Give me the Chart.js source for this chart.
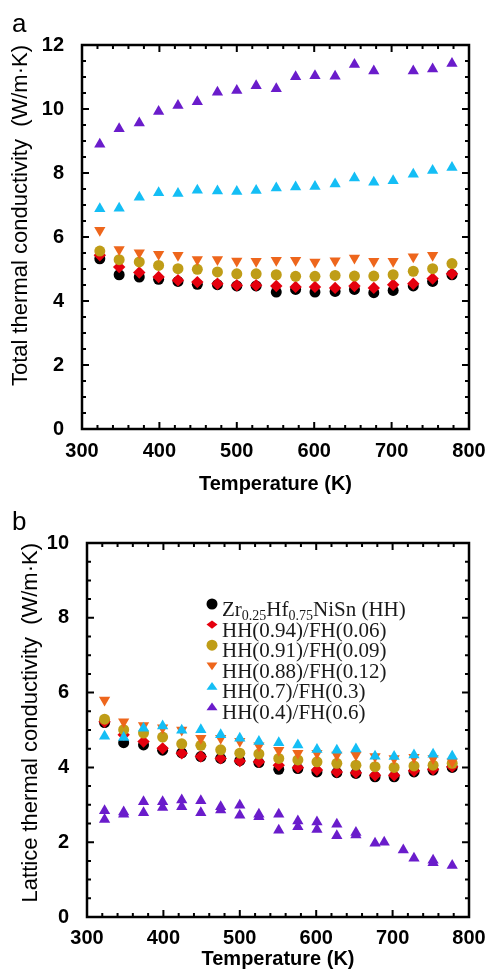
<!DOCTYPE html>
<html>
<head>
<meta charset="utf-8">
<script src="https://cdn.jsdelivr.net/npm/chart.js@4.4.0/dist/chart.umd.min.js"></script>
<style>
  body { margin: 0; background: #fff; }
  canvas { position: absolute; left: 0; }
</style>
</head>
<body>
<canvas id="chartA" width="491" height="500" style="top:0"></canvas>
<canvas id="chartB" width="491" height="477" style="top:500px"></canvas>
<script>
// temperatures (K)
const temps = [323, 348, 374, 399, 424, 449, 475, 500, 525, 551, 576, 601, 627, 652, 677, 702, 728, 753, 778];
const tempsB = [323, 348, 374, 399, 424, 449, 475, 500, 525, 551, 576, 601, 627, 652, 689, 714, 753];

// (a) total thermal conductivity
const kTotHH  = [5.32, 4.82, 4.75, 4.68, 4.61, 4.52, 4.51, 4.47, 4.47, 4.28, 4.36, 4.28, 4.30, 4.36, 4.26, 4.33, 4.47, 4.61, 4.82];
const kTot094 = [5.43, 5.06, 4.89, 4.75, 4.65, 4.59, 4.54, 4.49, 4.49, 4.47, 4.44, 4.44, 4.41, 4.47, 4.41, 4.51, 4.54, 4.70, 4.85];
const kTot091 = [5.56, 5.29, 5.22, 5.11, 5.01, 4.99, 4.91, 4.85, 4.85, 4.82, 4.77, 4.77, 4.80, 4.78, 4.78, 4.82, 4.93, 5.01, 5.17];
const kTot088 = [6.21, 5.61, 5.51, 5.46, 5.43, 5.30, 5.30, 5.25, 5.24, 5.27, 5.27, 5.22, 5.26, 5.34, 5.24, 5.24, 5.38, 5.43, null];
const kTot07  = [6.88, 6.90, 7.24, 7.38, 7.36, 7.46, 7.44, 7.42, 7.45, 7.53, 7.56, 7.58, 7.66, 7.84, 7.71, 7.76, 7.96, 8.08, 8.17];
const kTot04  = [8.90, 9.38, 9.56, 9.92, 10.11, 10.23, 10.52, 10.58, 10.73, 10.63, 11.01, 11.04, 11.02, 11.39, 11.19, null, 11.19, 11.25, 11.42];

// (b) lattice thermal conductivity
const kLatHH  = [5.20, 4.66, 4.60, 4.46, 4.39, 4.29, 4.24, 4.18, 4.13, 3.95, 3.97, 3.88, 3.86, 3.84, 3.75, 3.75, 3.88, 3.93, 4.00];
const kLat094 = [5.22, 4.87, 4.69, 4.51, 4.38, 4.29, 4.24, 4.17, 4.15, 4.06, 4.00, 3.93, 3.88, 3.86, 3.79, 3.79, 3.91, 3.95, 4.02];
const kLat091 = [5.29, 5.01, 4.92, 4.81, 4.63, 4.59, 4.47, 4.38, 4.36, 4.24, 4.20, 4.15, 4.11, 4.06, 4.02, 4.00, 4.04, 4.06, 4.11];
const kLat088 = [5.80, 5.22, 5.12, 5.06, 5.00, 4.78, 4.78, 4.70, 4.58, 4.46, 4.38, 4.38, 4.33, 4.33, 4.29, 4.24, 4.27, 4.24, 4.15];
const kLat07  = [4.83, 4.80, 5.05, 5.11, 4.99, 5.01, 4.87, 4.78, 4.69, 4.66, 4.60, 4.48, 4.46, 4.49, 4.30, 4.29, 4.33, 4.35, 4.30];
const kLat04  = [2.84, 2.81, 3.08, 3.08, 3.13, 3.11, 2.95, 2.99, 2.75, 2.75, 2.57, 2.54, 2.48, 2.26, 1.97, null, 1.57, 1.52, 1.38];
const kLat04b = [2.61, 2.75, 2.79, 2.93, 2.95, 2.79, 2.86, 2.72, 2.68, 2.32, 2.41, 2.34, 2.17, 2.19, 2.00, 1.79, 1.45];

const names = ['Zr_{0.25}Hf_{0.75}NiSn (HH)', 'HH(0.94)/FH(0.06)', 'HH(0.91)/FH(0.09)',
               'HH(0.88)/FH(0.12)', 'HH(0.7)/FH(0.3)', 'HH(0.4)/FH(0.6)'];
const colors = ['#000000', '#E5000E', '#BF9D17', '#EE661C', '#14BEF5', '#6A1CCB'];
const shapes = ['circle', 'rectRot', 'circle', 'triangle', 'triangle', 'triangle'];
const turns  = [0, 0, 0, 180, 0, 0];
const sizes  = [5.5, 6.2, 5.5, 6.5, 6.5, 6.5];

const xTicks  = [300, 400, 500, 600, 700, 800];
const yTicksA = [0, 2, 4, 6, 8, 10, 12];
const yTicksB = [0, 2, 4, 6, 8, 10];

const sans = '"Liberation Sans", Arial, sans-serif';
const serif = '"Liberation Serif", "Times New Roman", serif';

function pts(xs, ys) {
  return xs.map((x, i) => ({x: x, y: ys[i]})).filter(p => p.y !== null);
}

function makeSets(series, extra) {
  let sets = series.map((ys, i) => ({
    label: names[i],
    data: pts(temps, ys),
    backgroundColor: colors[i],
    borderColor: colors[i],
    pointStyle: shapes[i],
    rotation: turns[i],
    pointRadius: sizes[i],
    pointHoverRadius: sizes[i],
    pointBorderWidth: 0,
    showLine: false,
    order: 6 - i
  }));
  if (extra) {
    sets.push({
      label: names[5] + ' b',
      data: pts(tempsB, extra),
      backgroundColor: colors[5],
      borderColor: colors[5],
      pointStyle: 'triangle',
      pointRadius: 6.5,
      pointBorderWidth: 0,
      showLine: false,
      order: 1
    });
  }
  return sets;
}

// box + inward ticks on all four sides, panel letter
const framePlugin = {
  id: 'frame',
  afterDraw(chart, args, opts) {
    const {ctx, chartArea: a, scales: {x, y}} = chart;
    ctx.save();
    ctx.strokeStyle = '#000';
    ctx.lineWidth = 2;
    ctx.beginPath();
    x.ticks.forEach(t => {
      const px = x.getPixelForValue(t.value);
      const len = xTicks.includes(t.value) ? 7 : 4;
      ctx.moveTo(px, a.bottom); ctx.lineTo(px, a.bottom - len);
      ctx.moveTo(px, a.top); ctx.lineTo(px, a.top + len);
    });
    y.ticks.forEach(t => {
      const py = y.getPixelForValue(t.value);
      const len = opts.yMajor.includes(t.value) ? 7 : 4;
      ctx.moveTo(a.left, py); ctx.lineTo(a.left + len, py);
      ctx.moveTo(a.right, py); ctx.lineTo(a.right - len, py);
    });
    ctx.stroke();
    ctx.lineWidth = 2.5;
    ctx.strokeRect(a.left, a.top, a.right - a.left, a.bottom - a.top);
    ctx.fillStyle = '#000';
    ctx.font = '26px ' + sans;
    ctx.fillText(opts.letter, 12, opts.letterY);
    ctx.restore();
  }
};

function marker(ctx, shape, turn, r, x, y) {
  ctx.beginPath();
  if (shape === 'circle') {
    ctx.arc(x, y, r, 0, Math.PI * 2);
  } else if (shape === 'rectRot') {
    ctx.moveTo(x, y - r * 0.75); ctx.lineTo(x + r, y); ctx.lineTo(x, y + r * 0.75); ctx.lineTo(x - r, y);
  } else {
    const s = turn === 180 ? -1 : 1;
    ctx.moveTo(x, y - s * r * 0.8); ctx.lineTo(x + r, y + s * r * 0.6); ctx.lineTo(x - r, y + s * r * 0.6);
  }
  ctx.closePath();
  ctx.fill();
}

// legend with subscripts
const subLegend = {
  id: 'subLegend',
  afterDraw(chart, args, opts) {
    if (!opts.show) return;
    const ctx = chart.ctx;
    ctx.save();
    names.forEach((name, i) => {
      const cy = opts.top + i * opts.step;
      ctx.fillStyle = colors[i];
      marker(ctx, shapes[i], turns[i], 5.5, opts.x, cy - 5);
      ctx.fillStyle = '#1a1a1a';
      ctx.textBaseline = 'alphabetic';
      let tx = opts.x + 10;
      name.split(/(_\{[^}]*\})/).forEach(part => {
        if (!part) return;
        if (part.startsWith('_{')) {
          ctx.font = '14px ' + serif;
          const s = part.slice(2, -1);
          ctx.fillText(s, tx, cy + 11);
          tx += ctx.measureText(s).width;
        } else {
          ctx.font = '21px ' + serif;
          ctx.fillText(part, tx, cy + 7);
          tx += ctx.measureText(part).width;
        }
      });
    });
    ctx.restore();
  }
};

function build(id, sets, cfg) {
  return new Chart(document.getElementById(id), {
    type: 'scatter',
    data: { datasets: sets },
    options: {
      responsive: false,
      animation: false,
      devicePixelRatio: 1,
      layout: { padding: { top: cfg.top, right: 22, left: 0, bottom: 0 } },
      plugins: {
        legend: { display: false },
        tooltip: { enabled: false },
        frame: { letter: cfg.letter, letterY: cfg.letterY, yMajor: cfg.yMajor },
        subLegend: cfg.legend
      },
      scales: {
        x: {
          type: 'linear', min: 300, max: 800,
          afterFit: s => { s.height = cfg.xH; },
          grid: { display: false },
          border: { display: false },
          ticks: {
            stepSize: 20, autoSkip: false, maxRotation: 0, padding: cfg.xPad,
            color: '#000', font: { family: sans, size: 20, weight: 'bold' },
            callback: v => xTicks.includes(v) ? String(v) : ''
          },
          title: {
            display: true, text: 'Temperature (K)', color: '#000',
            font: { family: sans, size: 20, weight: 'bold' },
            padding: { top: 0, bottom: cfg.xTitlePad }
          }
        },
        y: {
          type: 'linear', min: 0, max: cfg.yMax,
          afterFit: s => { s.width = cfg.yW; },
          grid: { display: false },
          border: { display: false },
          ticks: {
            stepSize: 0.5, autoSkip: false, padding: 10,
            color: '#000', font: { family: sans, size: 20, weight: 'bold' },
            callback: v => cfg.yMajor.includes(v) ? String(v) : ''
          },
          title: {
            display: true, text: cfg.yTitle, align: 'end', color: '#000',
            font: { family: sans, size: 22 },
            padding: { top: cfg.yTitlePad, bottom: 0 }
          }
        }
      }
    },
    plugins: [framePlugin, subLegend]
  });
}

build('chartA', makeSets([kTotHH, kTot094, kTot091, kTot088, kTot07, kTot04]), {
  top: 45, letter: 'a', letterY: 32, yMajor: yTicksA, yMax: 12, yW: 82, xH: 71,
  xPad: 2, xTitlePad: 4, yTitle: 'Total thermal conductivity  (W/m\u00b7K)', yTitlePad: 8,
  legend: { show: false }
});

build('chartB', makeSets([kLatHH, kLat094, kLat091, kLat088, kLat07, kLat04], kLat04b), {
  top: 43, letter: 'b', letterY: 30, yMajor: yTicksB, yMax: 10, yW: 87, xH: 60,
  xPad: 1, xTitlePad: 6, yTitle: 'Lattice thermal conductivity  (W/m\u00b7K)', yTitlePad: 18,
  legend: { show: true, x: 212, top: 109, step: 20.6 }
});
</script>
</body>
</html>
